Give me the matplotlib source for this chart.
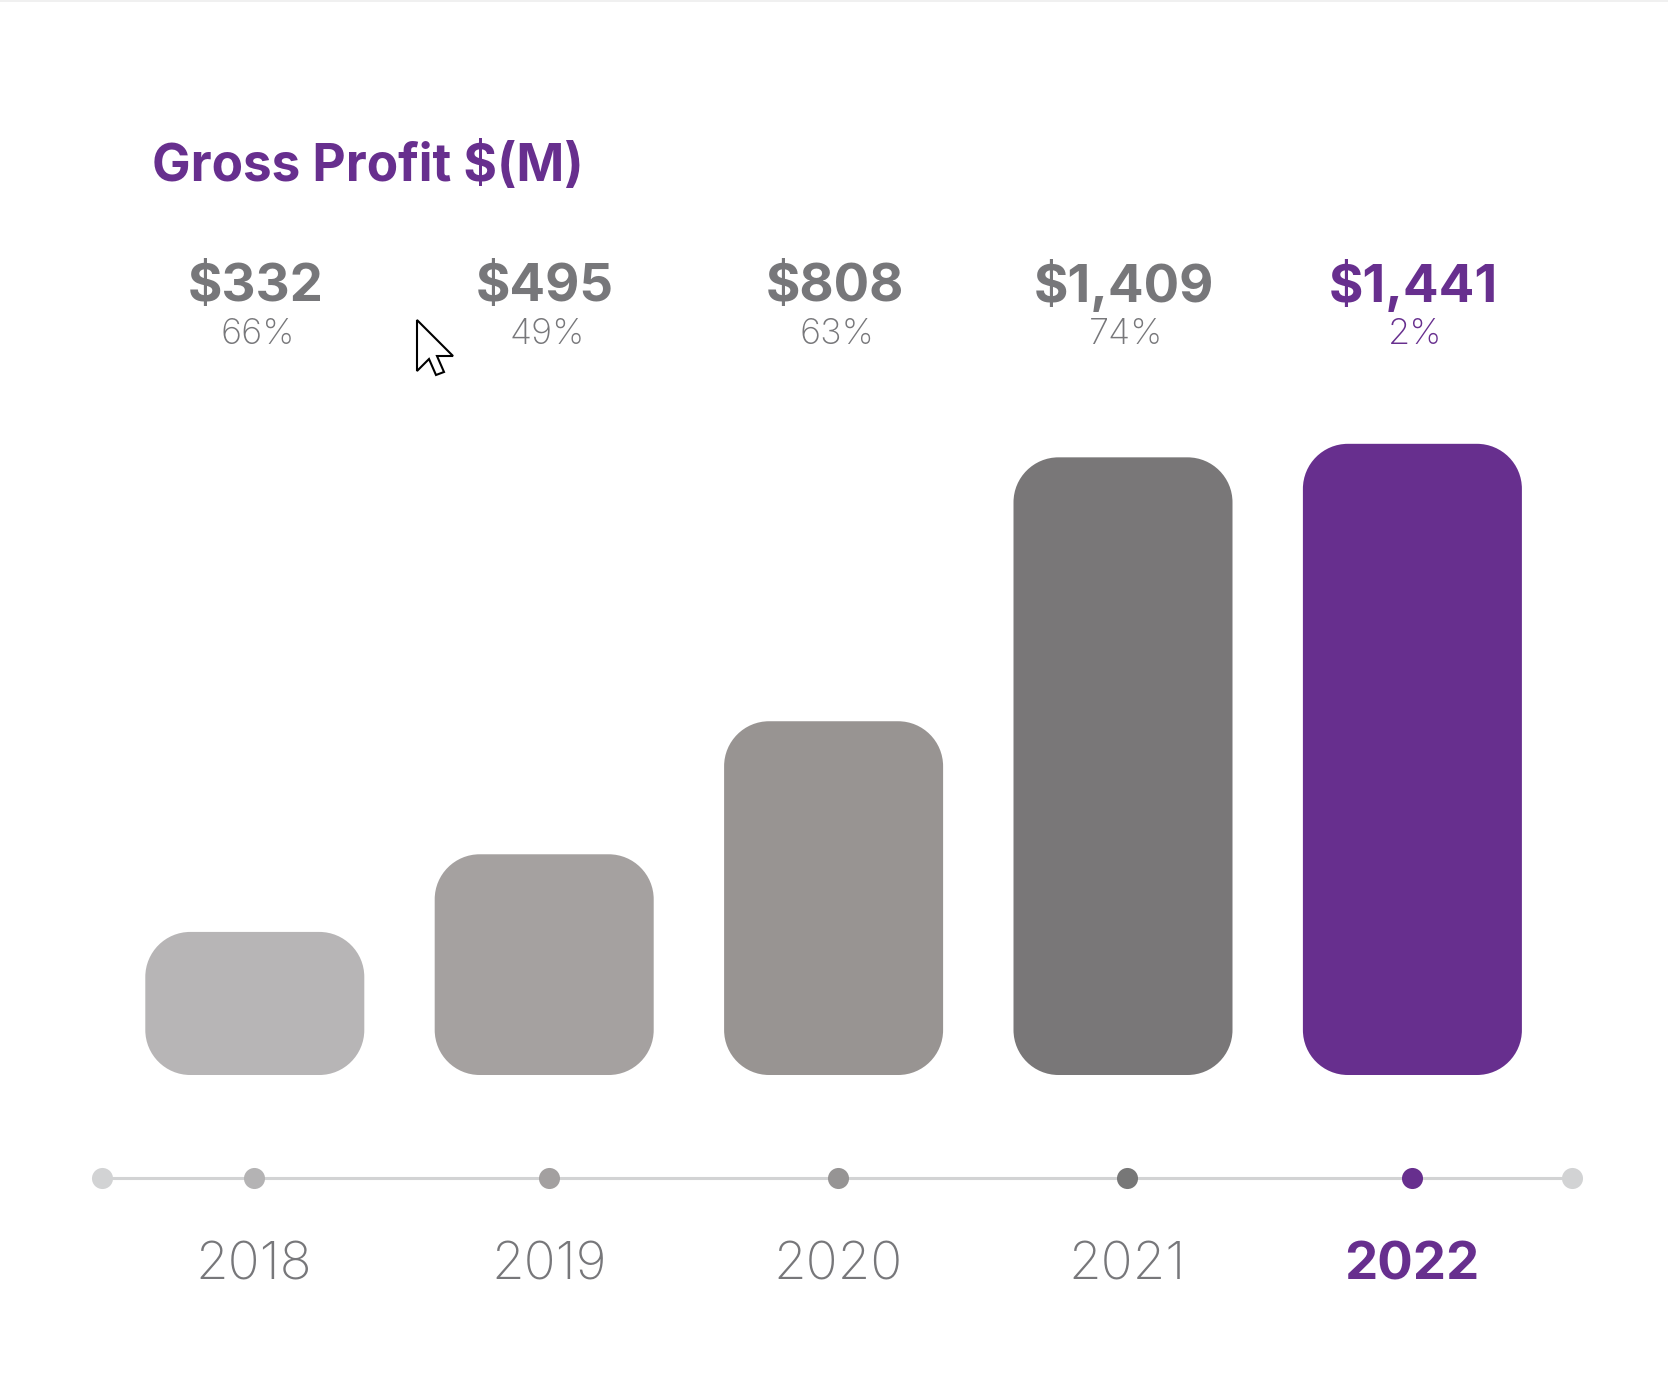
import matplotlib
matplotlib.use("Agg")
import matplotlib.pyplot as plt
from matplotlib.patches import PathPatch, Polygon
from matplotlib.path import Path

W, H = 1668, 1387

years = ["2018", "2019", "2020", "2021", "2022"]
profit = [328, 506, 811, 1416, 1447]  # bar heights
growth = ["66%", "49%", "63%", "74%", "2%"]
profit_labels = ["$332", "$495", "$808", "$1,409", "$1,441"]
bar_colors = ["#b7b5b6", "#a5a1a0", "#989492", "#797778", "#672f8e"]
dot_colors = ["#b4b3b4", "#a3a0a0", "#969494", "#777777", "#672f8e"]

PURPLE = "#672f8e"
GREY = "#77777a"
plt.rcParams["font.family"] = ["Inter", "DejaVu Sans"]

fig = plt.figure(figsize=(W / 100, H / 100), dpi=100)

# overlay in pixels for text and timeline, y pointing down
px = fig.add_axes([0, 0, 1, 1])
px.set_xlim(0, W)
px.set_ylim(H, 0)
px.axis("off")

# bars in data units, the limits put them where they sit on the page
ax = fig.add_axes([0, 0, 1, 1])
ax.patch.set_alpha(0)
x0, dx = 254.8, 289.4
base, ppu = 1075.0, 0.4362
ax.set_xlim(-x0 / dx, (W - x0) / dx)
ax.set_ylim(-(H - base) / ppu, base / ppu)
ax.axis("off")

bw = 219 / dx
rx = 45 / dx
ry = 45 / ppu
k = 0.4477  # distance of bezier handles from the corner, gives a circular arc


def round_bar(left, right, top):
    verts = [(left + rx, 0), (right - rx, 0),
             (right - k * rx, 0), (right, k * ry), (right, ry),
             (right, top - ry),
             (right, top - k * ry), (right - k * rx, top), (right - rx, top),
             (left + rx, top),
             (left + k * rx, top), (left, top - k * ry), (left, top - ry),
             (left, ry),
             (left, k * ry), (left + k * rx, 0), (left + rx, 0),
             (left + rx, 0)]
    codes = [Path.MOVETO, Path.LINETO,
             Path.CURVE4, Path.CURVE4, Path.CURVE4,
             Path.LINETO,
             Path.CURVE4, Path.CURVE4, Path.CURVE4,
             Path.LINETO,
             Path.CURVE4, Path.CURVE4, Path.CURVE4,
             Path.LINETO,
             Path.CURVE4, Path.CURVE4, Path.CURVE4,
             Path.CLOSEPOLY]
    return Path(verts, codes)


for i, v in enumerate(profit):
    ax.add_patch(PathPatch(round_bar(i - bw / 2, i + bw / 2, v),
                           fc=bar_colors[i], ec="none"))

# title
px.text(152, 167, "Gross Profit $(M)", color=PURPLE, fontsize=37, weight="bold",
        ha="left", va="center")

# value and growth labels
for i in range(5):
    c = PURPLE if i == 4 else GREY
    cx = x0 + dx * i + 1
    px.text(cx, 287, profit_labels[i], color=c, fontsize=38, weight="bold",
            ha="center", va="center")
    px.text(cx + 2, 335, growth[i], color=c, fontsize=26, weight="light",
            ha="center", va="center")

# timeline
dots = [254, 549, 838, 1127, 1412]
ty = 1178
px.plot([102, 1572], [ty, ty], color="#d2d3d4", lw=2.2, zorder=1, solid_capstyle="butt")
px.scatter([102, 1572], [ty, ty], s=230, color="#d2d3d4", zorder=2, linewidths=0)
for i, d in enumerate(dots):
    px.scatter([d], [ty], s=230, color=dot_colors[i], zorder=2, linewidths=0)
    if i == 4:
        px.text(d, 1266, years[i], color=PURPLE, fontsize=38, weight="bold",
                ha="center", va="center")
    else:
        px.text(d, 1266, years[i], color=GREY, fontsize=38, weight="light",
                ha="center", va="center")

# mouse cursor left on the screenshot
cursor = [(417, 320), (417, 371), (429, 359), (436, 375), (444, 372), (437, 356), (453, 356)]
px.add_patch(Polygon(cursor, closed=True, fc="white", ec="black", lw=1.5, zorder=5))

# faint strip along the top edge
px.axhspan(0, 2, color="#f0f0f0", lw=0)

fig.savefig("out.png", dpi=100)
